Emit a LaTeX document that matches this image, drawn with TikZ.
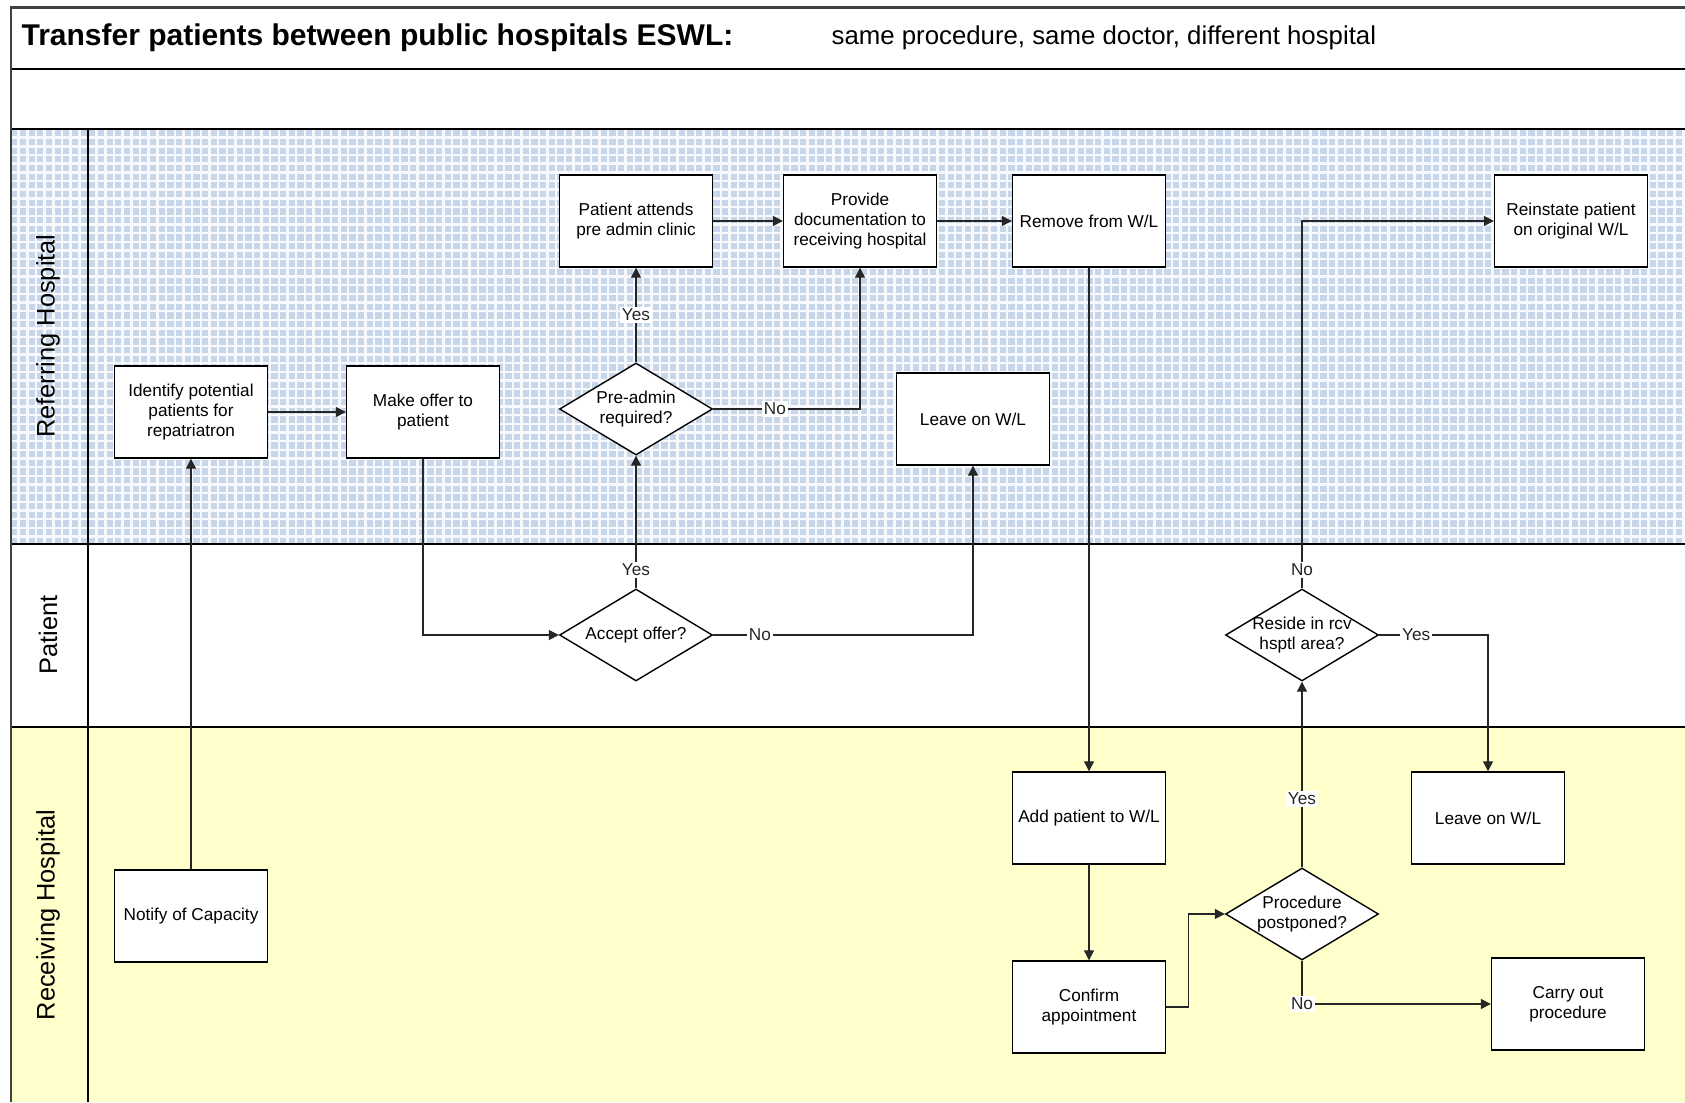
\documentclass[tikz,border=0pt]{standalone}
\usepackage{fontspec}
\setmainfont{Liberation Sans}
\usetikzlibrary{shapes.geometric,arrows.meta}
\definecolor{gridblue}{HTML}{C8D6E9}
\definecolor{laneyellow}{HTML}{FFFFCC}
\tikzset{every path/.style={semithick}}
\tikzset{
  procbox/.style={draw, fill=white, line width=0.7pt, minimum width=76.5pt, minimum height=46pt,
    align=center, inner sep=1pt, font=\fontsize{8.6}{10.2}\selectfont},
  decision/.style={draw, fill=white, line width=0.7pt, diamond, aspect=1.66, minimum width=76.5pt,
    minimum height=46pt, inner sep=-4pt, align=center, font=\fontsize{8.6}{10.2}\selectfont},
  flow/.style={-{Triangle[length=5pt,width=5pt]}, black!85},
  answer/.style={fill=white, inner sep=1pt, font=\fontsize{8.6}{10.2}\selectfont},
  lanelabel/.style={rotate=90, font=\fontsize{12.7}{15}\selectfont},
  gridline/.style={white!85!gridblue, line width=1.2pt},
}

\begin{document}
\begin{tikzpicture}[x=0.5pt,y=-0.5pt]
    \useasboundingbox (0,0) rectangle (1685,1102);

    \fill[gridblue] (11,129) rectangle (1685,544);
    \foreach \gx in {18.64,27.31,...,1684} \draw[gridline] (\gx,129) -- (\gx,544);
    \foreach \gy in {137.67,146.34,...,543} \draw[gridline] (11,\gy) -- (1685,\gy);
    \fill[laneyellow] (11,727) rectangle (1685,1102);
    \draw (11,69) -- (1685,69);
    \draw (11,129) -- (1685,129);
    \draw (11,544) -- (1685,544);
    \draw (11,727) -- (1685,727);
    \draw (88,129) -- (88,1102);
    \draw[black!75, line width=1.2pt] (1685,7.5) -- (11,7.5) -- (11,1102);

    \node[anchor=west, inner sep=0pt, font=\fontsize{15}{18}\selectfont\bfseries] (title) at (21,38)
      {Transfer patients between public hospitals ESWL:};
    \node[anchor=west, inner sep=0pt, font=\fontsize{12.9}{15}\selectfont] (subtitle) at (831,38)
      {same procedure, same doctor, different hospital};

    \node[lanelabel] (referring) at (48,336) {Referring Hospital};
    \node[lanelabel] (patient) at (48,635) {Patient};
    \node[lanelabel] (receiving) at (48,915) {Receiving Hospital};

    \node[procbox] (ident) at (191,412) {Identify potential\\patients for\\repatriatron};
    \node[procbox] (offer) at (423,412) {Make offer to\\patient};
    \node[procbox] (attend) at (636,221) {Patient attends\\pre admin clinic};
    \node[procbox] (provide) at (860,221) {Provide\\documentation to\\receiving hospital};
    \node[procbox] (remove) at (1089,221) {Remove from W/L};
    \node[procbox] (reinstate) at (1571,221) {Reinstate patient\\on original W/L};
    \node[procbox] (leavetop) at (973,419) {Leave on W/L};
    \node[procbox] (addpt) at (1089,818) {Add patient to W/L};
    \node[procbox] (leavebot) at (1488,818) {Leave on W/L};
    \node[procbox] (notify) at (191,916) {Notify of Capacity};
    \node[procbox] (confirm) at (1089,1007) {Confirm\\appointment};
    \node[procbox] (carry) at (1568,1004) {Carry out\\procedure};

    \node[decision] (preadm) at (636,409) {Pre-admin\\required?};
    \node[decision] (accept) at (636,635) {Accept offer?};
    \node[decision] (reside) at (1302,635) {Reside in rcv\\hsptl area?};
    \node[decision] (postp) at (1302,914) {Procedure\\postponed?};

    \draw[flow] (notify) -- (ident);
    \draw[flow] (ident) -- (offer);
    \draw[flow] (offer.south) |- (accept.west);
    \draw[flow] (accept) -- node[answer, pos=0.14] {Yes} (preadm);
    \draw[flow] (preadm) -- node[answer] {Yes} (attend);
    \draw[flow] (preadm.east) -| node[answer, pos=0.21] {No} (provide.south);
    \draw[flow] (accept.east) -| node[answer, pos=0.09] {No} (leavetop.south);
    \draw[flow] (attend) -- (provide);
    \draw[flow] (provide) -- (remove);
    \draw[flow] (remove) -- (addpt);
    \draw[flow] (addpt) -- (confirm);
    \draw[flow] (confirm.east) -- ++(22,0) |- (postp.west);
    \draw[flow] (postp) -- node[answer, pos=0.37] {Yes} (reside);
    \draw[flow] (postp.south) |- node[answer] {No} (carry.west);
    \draw[flow] (reside.north) |- node[answer, pos=0.025] {No} (reinstate.west);
    \draw[flow] (reside.east) -| node[answer, pos=0.17] {Yes} (leavebot.north);
\end{tikzpicture}
\end{document}
